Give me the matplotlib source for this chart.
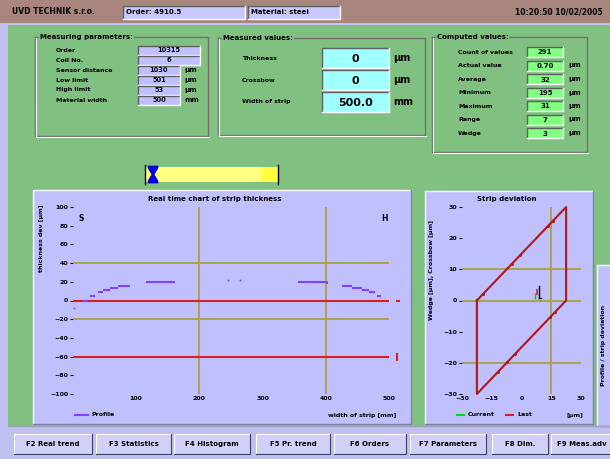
"""Strip thickness monitor screen - recreated with matplotlib."""
import numpy as np
import matplotlib
matplotlib.use('Agg')
import matplotlib.pyplot as plt
from matplotlib.patches import Rectangle, Polygon

# ── Data ──────────────────────────────────────────────────
nan = np.nan
# thickness profile across the strip (mm, µm)
profile_x = [16, 24, nan, 27, 35, nan, 40, 48, nan, 48, 58, nan, 58, 71, nan,
             71, 90, nan, 115, 161, nan, 356, 402, 402, nan, 426, 441, nan,
             441, 457, nan, 457, 468, nan, 468, 478, nan, 481, 487]
profile_y = [0, 0, nan, 4.6, 4.6, nan, 9.2, 9.2, nan, 11.7, 11.7, nan, 13.5, 13.5, nan,
             15.7, 15.7, nan, 20, 20, nan, 20, 20, 17.5, nan, 15.7, 15.7, nan,
             13.5, 13.5, nan, 11, 11, nan, 9.2, 9.2, nan, 4.6, 4.6]
profile_dots_x = [2, 245, 264]
profile_dots_y = [-7.5, 21.7, 21.7]
thick_ticks = [100, 80, 60, 40, 20, 0, -20, -40, -60, -80, -100]
width_ticks = [100, 200, 300, 400, 500]
tol_lines = [40, -20]        # olive
limit_lines = [0, -60]       # red
width_marks = [200, 400]

# strip deviation (wedge vs crossbow)
dev_x = [-22.5, 22.5, 22.5, -22.5, -22.5]
dev_y = [0, 30, 0, -30, 0]
dev_pts_x = [-19.4, -4.8, -0.8, 13.4, 16.0, 14.4, 16.9, -3.3, -7.3, -12.0]
dev_pts_y = [2.1, 11.8, 14.5, 23.9, 25.6, -5.4, -3.7, -17.2, -19.8, -23.0]
dev_ticks_y = [30, 20, 10, 0, -10, -20, -30]
dev_ticks_x = [-30, -15, 0, 15, 30]
dev_hlines = [10, 0, -20]
dev_vlines = [15]
cur_x, cur_y = 7.8, 1.6

meas_params = [('Order', '10315', ''), ('Coil No.', '6', ''),
               ('Sensor distance', '1030', 'µm'), ('Low limit', '501', 'µm'),
               ('High limit', '53', 'µm'), ('Material width', '500', 'mm')]
meas_values = [('Thickness', '0', 'µm'), ('Crossbow', '0', 'µm'),
               ('Width of strip', '500.0', 'mm')]
comp_values = [('Count of values', '291', ''), ('Actual value', '0.70', 'µm'),
               ('Average', '32', 'µm'), ('Minimum', '195', 'µm'),
               ('Maximum', '31', 'µm'), ('Range', '7', 'µm'),
               ('Wedge', '3', 'µm')]
buttons = ['F2 Real trend', 'F3 Statistics', 'F4 Histogram', 'F5 Pr. trend',
           'F6 Orders', 'F7 Parameters', 'F8 Dim.', 'F9 Meas.adv']

# ── Palette ───────────────────────────────────────────────
C_GREEN = '#80c080'
C_LAV = '#c0c0ff'
C_FRAME = '#c0c0f0'
C_TOP = '#a8867e'
C_OLIVE = '#a8a040'
C_RED = '#d82020'
C_DRED = '#b01818'
C_PURPLE = '#8040ff'
C_CYAN = '#a0ffff'
C_LGREEN = '#80ff80'
FS = 5

W, H = 610, 459
fig = plt.figure(figsize=(W / 100, H / 100), dpi=100)
fig.patch.set_facecolor(C_FRAME)
ui = fig.add_axes([0, 0, 1, 1])
ui.set_xlim(0, W)
ui.set_ylim(H, 0)
ui.axis('off')


def rect(x0, y0, x1, y1, fc, ec='none', lw=0.8, z=1):
    ui.add_patch(Rectangle((x0, y0), x1 - x0, y1 - y0, facecolor=fc,
                           edgecolor=ec, linewidth=lw, zorder=z))


def bevel(x0, y0, x1, y1, light='white', dark='#606060', lw=1.0, z=2):
    ui.plot([x0, x0, x1], [y1, y0, y0], color=dark, lw=lw, zorder=z)
    ui.plot([x0, x1, x1], [y1, y1, y0], color=light, lw=lw, zorder=z)


def group_box(x0, y0, x1, y1, title):
    ui.plot([x0, x1, x1, x0, x0], [y0, y0, y1, y1, y0], color='#707070', lw=1.0, zorder=2)
    ui.plot([x0 + 1, x0 + 1, x1 + 1], [y0 + 1, y1 + 1, y1 + 1], color='white', lw=0.8, zorder=2)
    ui.text(x0 + 5, y0, title, fontsize=FS, fontweight='bold', va='center',
            ha='left', zorder=3, bbox=dict(facecolor=C_GREEN, edgecolor='none', pad=0.5))


def value_box(x0, y0, x1, y1, txt, fc, fs=FS):
    rect(x0, y0, x1, y1, fc, z=2)
    bevel(x0, y0, x1, y1, z=3)
    ui.text((x0 + x1) / 2, (y0 + y1) / 2 + 0.5, txt, fontsize=fs, fontweight='bold',
            ha='center', va='center', zorder=4)


# ── Frame ─────────────────────────────────────────────────
rect(8, 25, W, 426, C_GREEN)
rect(0, 0, W, 23, C_TOP)
ui.text(12, 12, 'UVD TECHNIK s.r.o.', fontsize=5.5, fontweight='bold', va='center')
value_box(123, 6, 245, 19, '', '#c8c8ff')
ui.text(126, 12.5, 'Order: 4910.5', fontsize=FS, fontweight='bold', va='center', zorder=4)
value_box(248, 6, 340, 19, '', '#c8c8ff')
ui.text(251, 12.5, 'Material: steel', fontsize=FS, fontweight='bold', va='center', zorder=4)
ui.text(603, 12, '10:20:50 10/02/2005', fontsize=5.5, fontweight='bold',
        va='center', ha='right')

# ── Measuring parameters ─────────────────────────────────
group_box(35, 37, 208, 136, 'Measuring parameters:')
for i, (lbl, val, unit) in enumerate(meas_params):
    y = 50 + i * 10
    ui.text(56, y, lbl, fontsize=4.5, fontweight='bold', va='center')
    x1 = 200 if unit == '' else 180
    value_box(138, y - 4.5, x1, y + 4.5, val, C_LAV, fs=4.8)
    if unit:
        ui.text(184, y, unit, fontsize=FS, fontweight='bold', va='center')

# ── Measured values ──────────────────────────────────────
group_box(218, 38, 425, 135, 'Measured values:')
for i, (lbl, val, unit) in enumerate(meas_values):
    y0 = 48 + i * 22
    ui.text(242, y0 + 10, lbl, fontsize=4.5, fontweight='bold', va='center')
    value_box(322, y0, 389, y0 + 20, val, C_CYAN, fs=8)
    ui.text(393, y0 + 10, unit, fontsize=7, fontweight='bold', va='center')

# ── Computed values ──────────────────────────────────────
group_box(432, 37, 587, 152, 'Computed values:')
for i, (lbl, val, unit) in enumerate(comp_values):
    y = 52 + i * 13.5
    ui.text(458, y, lbl, fontsize=4.5, fontweight='bold', va='center')
    value_box(527, y - 5, 563, y + 5, val, C_LGREEN, fs=5)
    if unit:
        ui.text(568, y, unit, fontsize=FS, fontweight='bold', va='center')

# ── Slider ───────────────────────────────────────────────
rect(145, 167, 278, 182, '#ffff80', z=2)
rect(262, 167, 277, 182, '#ffff40', z=2)
ui.plot([145, 145], [165, 184], color='black', lw=1, zorder=3)
ui.plot([278, 278], [165, 184], color='black', lw=1, zorder=3)
ui.add_patch(Polygon([[148, 166], [158, 166], [158, 168], [154, 174.5], [158, 181],
                      [158, 183], [148, 183], [148, 181], [152, 174.5], [148, 168]],
                     facecolor='#0000ff', edgecolor='#000080', lw=0.5, zorder=4))

# ── Chart panels ─────────────────────────────────────────
rect(33, 190, 411, 424, C_LAV, z=1)
bevel(33, 190, 411, 424, light='#8080a0', dark='white')
rect(425, 191, 593, 424, C_LAV, z=1)
bevel(425, 191, 593, 424, light='#8080a0', dark='white')
rect(597, 265, W + 2, 426, C_LAV, z=1)
bevel(597, 265, W + 2, 426, light='#8080a0', dark='white')
ui.text(604, 345, 'Profile / strip deviation', rotation=90, fontsize=4.5,
        fontweight='bold', ha='center', va='center')

ui.text(215, 199, 'Real time chart of strip thickness', fontsize=FS,
        fontweight='bold', ha='center', va='center')
ui.text(42, 205, 'thickness dev [µm]', rotation=90, fontsize=4.5,
        fontweight='bold', ha='center', va='top')
ui.plot([75, 88], [415, 415], color=C_PURPLE, lw=1.5)
ui.text(91, 415, 'Profile', fontsize=4.5, fontweight='bold', va='center')
ui.text(396, 415, 'width of strip [mm]', fontsize=4.5, fontweight='bold',
        va='center', ha='right')

ui.text(507, 199, 'Strip deviation', fontsize=FS, fontweight='bold',
        ha='center', va='center')
ui.text(432, 270, 'Wedge [µm], Crossbow [µm]', rotation=90, fontsize=4.5,
        fontweight='bold', ha='center', va='center')
ui.plot([457, 464], [415, 415], color='#00e000', lw=1.5)
ui.text(468, 415, 'Current', fontsize=4.5, fontweight='bold', va='center')
ui.plot([506, 513], [415, 415], color=C_RED, lw=1.5)
ui.text(517, 415, 'Last', fontsize=4.5, fontweight='bold', va='center')
ui.text(583, 415, '[µm]', fontsize=4.5, fontweight='bold', va='center', ha='right')

# ── Buttons ──────────────────────────────────────────────
rect(0, 426, W, H, C_FRAME, z=0)
ui.plot([8, W], [426, 426], color='#a0a0c0', lw=1)
bx = [(14, 92), (96, 171), (174, 250), (256, 330), (334, 406), (410, 486),
      (492, 548), (551, W + 2)]
for (x0, x1), lbl in zip(bx, buttons):
    rect(x0, 434, x1, 454, '#d0d0f8', z=1)
    bevel(x0, 434, x1, 454, light='#404060', dark='white', lw=0.8)
    ui.text((x0 + x1) / 2, 444, lbl, fontsize=5, fontweight='bold',
            ha='center', va='center', zorder=4)


def style_axes(ax):
    ax.set_facecolor('none')
    for s in ax.spines.values():
        s.set_visible(False)
    ax.tick_params(length=2, width=0.8, labelsize=4.5, pad=1.5, colors='black')
    for t in ax.get_xticklabels() + ax.get_yticklabels():
        t.set_fontweight('bold')


# ── Thickness chart ──────────────────────────────────────
ax1 = fig.add_axes([73 / W, (H - 394) / H, 316 / W, 187 / H])
ax1.set_xlim(0, 500)
ax1.set_ylim(-100, 100)
for v in tol_lines:
    ax1.axhline(v, color=C_OLIVE, lw=1.3)
for v in width_marks:
    ax1.axvline(v, color=C_OLIVE, lw=1.3)
for v in limit_lines:
    ax1.axhline(v, color=C_RED, lw=1.5)
ax1.plot(profile_x, profile_y, color=C_PURPLE, lw=1.5, solid_capstyle='butt')
ax1.plot(profile_dots_x, profile_dots_y, 's', color=C_PURPLE, ms=1.2, mew=0)
ax1.plot([512, 516], [0, 0], color=C_RED, lw=1.5, clip_on=False)
ax1.plot([512, 512], [-57, -64], color=C_RED, lw=1.5, clip_on=False)
ax1.set_yticks(thick_ticks)
ax1.set_xticks(width_ticks)
ax1.tick_params(axis='x', length=0)
ax1.text(8, 92, 'S', fontsize=5.5, fontweight='bold', va='top')
ax1.text(488, 92, 'H', fontsize=5.5, fontweight='bold', va='top')
style_axes(ax1)
ax1.tick_params(axis='x', length=0)

# ── Deviation chart ──────────────────────────────────────
ax2 = fig.add_axes([462 / W, (H - 394) / H, 119 / W, 187 / H])
ax2.set_xlim(-30, 30)
ax2.set_ylim(-30, 30)
for v in dev_hlines:
    ax2.axhline(v, color=C_OLIVE, lw=1.3)
for v in dev_vlines:
    ax2.axvline(v, color=C_OLIVE, lw=1.3)
ax2.plot(dev_x, dev_y, color=C_DRED, lw=1.5, clip_on=False)
ax2.plot(dev_pts_x, dev_pts_y, 'o', color=C_DRED, ms=2.2, mew=0)
ax2.plot([cur_x - 1.2], [cur_y], '|', color='#00d000', ms=4, mew=1)
ax2.plot([cur_x], [cur_y + 1], '|', color=C_RED, ms=5, mew=1.2)
ax2.plot([cur_x + 0.8, cur_x + 2.2], [cur_y - 0.8, cur_y - 0.8], color='black', lw=1)
ax2.plot([cur_x + 0.8, cur_x + 0.8], [cur_y - 0.8, cur_y + 3], color='black', lw=1)
ax2.set_yticks(dev_ticks_y)
ax2.set_xticks(dev_ticks_x)
style_axes(ax2)
ax2.tick_params(axis='x', length=0)

fig.savefig('out.png', dpi=100, facecolor=C_FRAME)
